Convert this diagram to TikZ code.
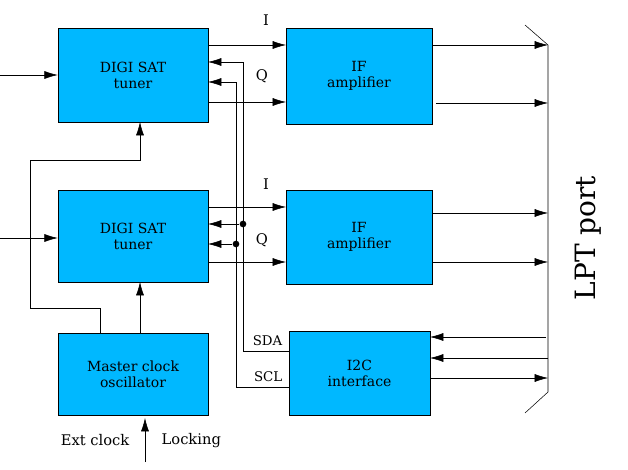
\documentclass[tikz,border=0pt]{standalone}
\usepackage{fontspec}
\setmainfont{DejaVu Serif}
\usetikzlibrary{arrows.meta}
\begin{document}
\begin{tikzpicture}[x=0.75pt,y=-0.75pt,
  box/.style={draw,fill=cyan!75!blue!30!cyan,fill=blue!0!cyan,inner sep=0pt,align=center,font=\fontsize{10.5}{12}\selectfont},
  ar/.style={-{Latex[length=10pt,width=6pt]}},
  lab/.style={font=\fontsize{11}{13}\selectfont},
  dot/.style={circle,fill,inner sep=0pt,minimum size=5pt}]
\useasboundingbox (0,0) rectangle (628,470);
\tikzset{box/.append style={fill={rgb,255:red,0;green,184;blue,255}}}
\node[box,minimum width=112.5pt,minimum height=70.5pt] (t1) at (133,75) {DIGI SAT\\tuner};
\node[box,minimum width=112.5pt,minimum height=69pt] (t2) at (133,236) {DIGI SAT\\tuner};
\node[box,minimum width=112.5pt,minimum height=61.5pt] (mc) at (133,374) {Master clock\\oscillator};
\node[box,minimum width=109.5pt,minimum height=72pt] (if1) at (359,76) {IF\\amplifier};
\node[box,minimum width=109.5pt,minimum height=70.5pt] (if2) at (359,237) {IF\\amplifier};
\node[box,minimum width=105.75pt,minimum height=63pt] (i2c) at (359.5,373) {I2C\\interface};
% LPT port
\draw (525,25) -- (548,45) coordinate (ptop) -- (548,392) coordinate (pbot) -- (525,413);
\node[rotate=90,font=\fontsize{21}{24}\selectfont] (lpt) at (588,238) {LPT port};
% inputs
\coordinate (in1) at (0,75); \coordinate (in2) at (0,238);
\draw[ar] (in1) -- (t1.west|-in1);
\draw[ar] (in2) -- (t2.west|-in2);
% tuner -> IF
\draw[ar] (208,45) -- (286,45); \draw[ar] (208,102) -- (286,102);
\draw[ar] (208,207) -- (286,207); \draw[ar] (208,262) -- (286,262);
\node[lab] (i1) at (266,20) {I}; \node[lab] (q1) at (262,76) {Q};
\node[lab] (i2) at (266,184) {I}; \node[lab] (q2) at (262,240) {Q};
% IF -> port
\draw[ar] (432,45) -- (548,45); \draw[ar] (436,103) -- (548,103);
\draw[ar] (432,213) -- (548,213); \draw[ar] (432,262) -- (548,262);
% I2C <-> port
\draw[ar] (546,337) -- (430,337); \draw[ar] (548,358) -- (430,358);
\draw[ar] (430,378) -- (548,378);
% SDA / SCL buses
\draw[ar] (289,351) -- (243,351) -- (243,62) -- (208,62);
\draw[ar] (289,387) -- (236,387) -- (236,82) -- (208,82);
\node[dot] (d1) at (243,224) {}; \node[dot] (d2) at (236,244) {};
\draw[ar] (d1) -- (208,224); \draw[ar] (d2) -- (208,244);
\node[lab,font=\fontsize{10}{12}\selectfont,anchor=south east] (sda) at (287,350) {SDA};
\node[lab,font=\fontsize{10}{12}\selectfont,anchor=south east] (scl) at (287,386) {SCL};
% clock
\draw[ar] (100,333) -- (100,308) -- (30,308) -- (30,160) -- (140,160) -- (140,122);
\draw[ar] (140,333) -- (140,282);
\draw[ar] (145,462) -- (145,418);
\node[lab,anchor=east] (ext) at (134,440) {Ext clock};
\node[lab,anchor=west] (lock) at (157,441) {Locking};
\end{tikzpicture}
\end{document}
